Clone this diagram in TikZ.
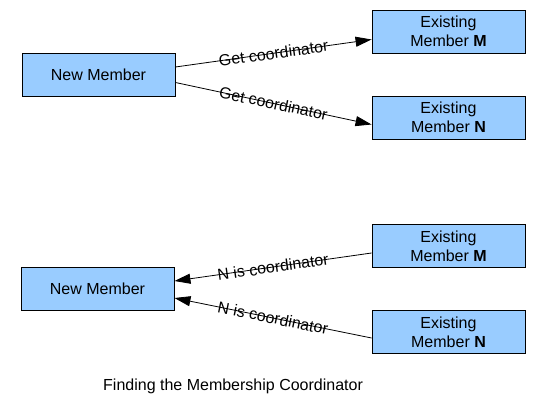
\documentclass[tikz,border=0pt]{standalone}
\usepackage{fontspec}
\setmainfont{Liberation Sans}
\usetikzlibrary{arrows.meta}
\definecolor{boxblue}{HTML}{99CCFF}
\begin{document}
\begin{tikzpicture}[x=1pt,y=-1pt,
  member/.style={draw=black, line width=0.9pt, fill=boxblue, minimum width=153pt, minimum height=43pt,
    inner sep=0pt, align=center, font=\fontsize{16}{19}\selectfont},
  msg/.style={line width=0.8pt, -{Triangle[length=16pt,width=10pt]}},
  lbl/.style={sloped, midway, inner sep=0pt, font=\fontsize{16}{19}\selectfont}]
\useasboundingbox (0,0) rectangle (556,406);
% top
\node[member] (nm1) at (98.5,74.5) {New Member};
\node[member] (m1) at (448.5,31.5) {Existing\\Member \textbf{M}};
\node[member] (n1) at (448.5,117.5) {Existing\\Member \textbf{N}};
\draw[msg] ([yshift=7.5pt]nm1.east) -- node[lbl] {Get coordinator} ([yshift=-8pt]m1.west);
\draw[msg] ([yshift=-8pt]nm1.east) -- node[lbl] {Get coordinator} ([yshift=-7pt]n1.west);
% bottom
\node[member] (nm2) at (97.5,288.5) {New Member};
\node[member] (m2) at (448.5,246) {Existing\\Member \textbf{M}};
\node[member] (n2) at (448.5,332) {Existing\\Member \textbf{N}};
\draw[msg] ([yshift=-7pt]m2.west) -- node[lbl] {N is coordinator} ([yshift=7.5pt]nm2.east);
\draw[msg] ([yshift=-6pt]n2.west) -- node[lbl] {N is coordinator} ([yshift=-9.5pt]nm2.east);
% caption
\node[anchor=base west, inner sep=0pt, font=\fontsize{16}{19}\selectfont] (cap) at (103,390) {Finding the Membership Coordinator};
\end{tikzpicture}
\end{document}
